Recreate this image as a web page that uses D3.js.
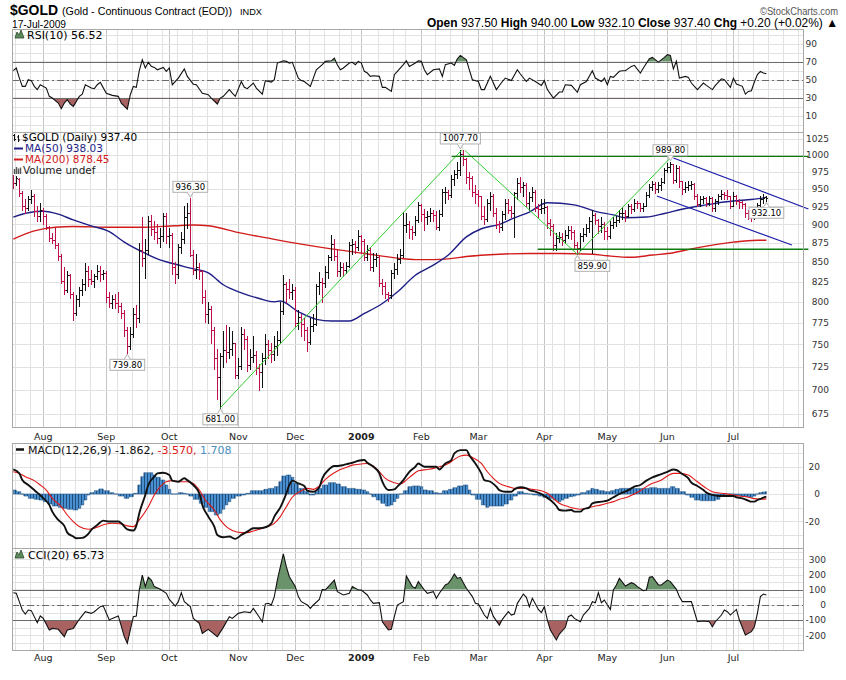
<!DOCTYPE html>
<html><head><meta charset="utf-8">
<script src="https://cdn.jsdelivr.net/npm/d3@7"></script>
<style>body{margin:0;background:#fff}svg{display:block}</style>
</head><body><svg id="c" width="846" height="680"></svg>
<script>
// ================= DATA =================
const START = "2008-07-18";
const HOLIDAYS = ["2008-09-01","2008-11-27","2008-12-25","2009-01-01","2009-01-19","2009-02-16","2009-04-10","2009-05-25","2009-07-03"];
const MONTH_LABELS = ["Aug","Sep","Oct","Nov","Dec","2009","Feb","Mar","Apr","May","Jun","Jul"];

const OPEN = [966,958,964,944,926,922,936,940,918,912,
920,911,896,881,879,872,858,826,815,833,
810,786,803,815,822,838,828,826,832,838,
834,836,806,799,803,798,795,786,766,748,
762,785,780,866,855,865,905,893,890,882,
884,912,884,886,843,835,870,880,910,915,
859,840,844,839,806,785,791,766,735,714,
737,744,741,745,751,716,726,762,756,727,
736,738,723,719,734,750,744,739,748,755,
789,822,816,812,815,775,782,774,767,753,
771,774,819,825,823,837,856,874,858,839,
843,840,845,872,873,870,884,878,857,866,
843,854,856,823,820,809,808,836,841,854,
859,899,900,894,889,906,927,914,910,911,
916,913,896,914,945,946,941,964,972,977,
1002,994,967,966,946,942,939,911,907,929,
940,915,900,897,914,930,920,915,944,958,
953,955,930,938,946,923,921,922,924,902,
898,872,881,883,879,886,892,889,872,868,
884,887,895,904,913,906,898,901,891,884,
899,903,906,915,916,912,925,921,930,929,
923,926,941,953,957,949,956,960,978,982,
986,963,981,961,950,953,955,957,940,928,
936,937,929,937,922,932,939,943,941,939,
926,940,932,931,928,915,914,912,915,927,
936,937.5];
const HIGH = [970,968,966,947,935,940,948,942,925,930,
922,914,898,888,895,875,860,843,838,835,
812,808,818,828,848,845,840,835,846,845,
840,838,812,808,810,812,798,790,770,770,
792,796,875,910,880,912,913,905,900,895,
915,915,895,888,850,873,890,926,930,936.3,
865,860,848,840,815,800,795,770,745,740,
765,772,770,765,752,734,770,768,760,745,
760,742,728,740,762,755,752,760,765,800,
833,825,828,822,818,790,785,780,770,780,
785,822,837,830,845,859,886,880,866,850,
848,850,876,880,878,892,885,880,872,868,
862,862,858,828,825,812,840,848,860,867,
917,915,905,898,912,931,928,921,918,922,
920,918,920,950,952,948,970,978,990,1007.7,
1007,995,975,968,955,948,940,925,935,945,
942,922,905,918,935,935,925,945,965,967,
960,958,945,952,948,928,935,935,926,908,
900,888,890,888,892,898,898,892,876,888,
895,900,910,920,916,908,910,903,896,905,
910,912,920,924,920,928,928,935,933,930,
930,945,957,962,960,960,965,980,988,989.8,
987,985,983,962,960,962,962,958,942,940,
940,938,940,938,935,942,948,946,948,940,
945,941,935,933,930,920,918,920,930,940,
942,940];
const LOW = [951,955,940,920,916,920,930,912,904,905,
900,893,878,875,868,852,823,810,812,805,
778,784,795,808,815,820,822,818,828,826,
828,800,794,792,792,788,780,760,739.8,745,
758,770,776,845,830,860,885,880,875,870,
878,875,870,835,823,830,862,875,895,858,
835,830,828,798,776,775,752,722,690,681,
725,730,735,738,712,712,722,745,720,722,
730,717,700,703,728,735,730,732,738,752,
785,800,805,803,770,768,760,755,742,750,
765,772,810,800,818,830,852,852,832,832,
832,836,843,860,862,865,862,852,852,840,
838,845,820,810,805,801,805,830,835,848,
857,890,882,880,885,903,905,892,900,905,
905,893,892,912,930,935,938,955,965,970,
985,958,950,940,930,925,908,900,905,920,
912,895,890,892,908,915,910,883,935,945,
940,925,920,932,918,910,915,915,895,886,
866,866,876,872,875,882,880,868,859.9,866,
878,884,890,862,900,888,890,880,880,882,
895,898,903,907,905,910,915,918,922,918,
918,925,938,948,944,946,948,958,975,975,
958,960,952,942,945,948,950,935,925,925,
930,926,927,918,918,928,935,935,935,922,
925,928,922,922,910,908,905,908,912,925,
930,932.1];
const CLOSE = [958,965,944,925,922,936,940,918,912,920,
911,896,881,879,872,858,826,815,833,810,
786,803,815,822,838,828,826,832,838,834,
836,806,799,803,798,795,786,766,748,762,
785,780,866,855,865,905,893,890,882,884,
912,884,886,843,835,870,880,910,915,859,
840,844,839,806,785,791,766,735,714,737,
744,741,745,751,716,726,762,756,727,736,
738,723,719,734,750,744,739,748,755,789,
822,816,812,815,775,782,774,767,753,771,
774,819,825,823,837,856,874,858,839,843,
840,845,872,873,870,884,878,857,866,843,
854,856,823,820,809,808,836,841,854,859,
899,900,894,889,906,927,914,910,911,916,
913,896,914,945,946,941,964,972,977,1002,
994,967,966,946,942,939,911,907,929,940,
915,900,897,914,930,920,915,944,958,953,
955,930,938,946,923,921,922,924,902,898,
872,881,883,879,886,892,889,872,868,884,
887,895,904,913,906,898,901,891,884,899,
903,906,915,916,912,925,921,930,929,923,
926,941,953,957,949,956,960,978,982,986,
963,981,961,950,953,955,957,940,928,936,
937,929,937,922,932,939,943,941,939,926,
940,932,931,928,915,914,912,915,927,936,
937.2,937.4];

// moving averages: [bar index, value]
const MA50 = [[0,910],[5,916],[10,918],[15,914],[20,906],[26,898],[32,890],[37,876],[43,863],[48,854],[54,847],[59,842],[65,836],[70,821],[76,811],[82,804],[87,800],[89,801],[95,788],[101,779],[106,777],[112,777],[117,786],[123,798],[128,812],[134,833],[140,846],[145,859],[151,883],[156,894],[162,900],[167,909],[172,917],[178,930],[187,927],[194,918],[200,913],[204,909],[211,910],[217,915],[224,922],[231,927],[237,931],[244,934],[250,937],[251,938.03]];
const MA200 = [[0,880],[7,891],[14,896],[20,897],[32,896],[43,896],[54,898],[60,899],[65,898],[76,888],[84,882],[95,874],[106,867],[117,861],[128,855],[134,853],[140,853],[145,854],[151,857],[162,860],[172,861],[182,861],[193,860],[198,858],[206,856],[213,859],[220,862],[226,867],[233,872],[240,876],[248,878.5],[251,878.45]];

const RSI = [[0,60],[1,63],[2,52],[3,42.6],[4,42.6],[5,50],[6,49],[7,42.6],[8,39],[9,44.4],[11,40.7],[12,31.5],[13,29.6],[15,24],[16,17.8],[17,24],[18,27.8],[19,23],[20,20.4],[22,31.5],[23,34],[24,44.4],[26,40.7],[27,40],[28,44.4],[29,47],[31,35],[33,32.6],[35,31.5],[36,24],[38,17.4],[39,33.3],[40,42.6],[41,41.5],[42,60],[43,72.2],[44,63],[45,69.3],[46,64.8],[47,63.7],[48,61],[50,63.7],[51,59.3],[52,63],[53,44.4],[55,51.8],[57,62],[58,53.7],[60,45],[61,44.4],[63,35],[65,33.3],[66,29.6],[68,23],[69,29.6],[70,31.5],[72,38.9],[73,35],[74,31.5],[76,48],[77,41.5],[78,40],[80,46.3],[81,40.7],[83,34],[84,49],[86,47.4],[87,50],[88,68.5],[90,71],[91,70.4],[92,68.5],[93,69.3],[95,51.8],[96,49],[97,48],[99,42.6],[100,51.8],[101,61],[103,66.7],[104,70.4],[106,71],[107,74],[108,66.7],[109,61],[110,63],[112,68.5],[113,69.3],[114,66.7],[115,70.4],[116,68.5],[117,59.3],[118,57.4],[119,53.7],[120,54.4],[122,53.7],[123,41.5],[124,41.5],[126,37],[127,55.6],[128,59.3],[130,66.7],[131,71],[132,64.8],[134,68.5],[135,71],[136,70.4],[137,61],[138,55.6],[140,61],[142,62],[143,53.7],[144,66.7],[146,68.5],[147,66],[148,73.3],[149,77],[151,72.2],[152,61],[153,50],[155,48],[156,39],[157,39],[159,53.7],[161,39],[163,48],[164,51.8],[166,49],[168,61],[169,56.3],[171,48],[172,51.8],[174,48],[176,43.7],[177,49],[178,39],[180,29.6],[182,36.3],[183,36.3],[184,44.4],[186,43.7],[188,36],[189,44.4],[191,48],[193,60],[194,51.8],[196,48],[197,51.8],[198,44.4],[199,53.7],[200,52.6],[202,59.3],[203,60],[204,60],[206,64.8],[207,66],[209,57.4],[210,63],[212,73.3],[213,74.8],[215,69.6],[217,74.8],[218,77.8],[219,77],[220,62],[221,70.4],[222,51.8],[224,53.7],[225,52.6],[226,46.3],[228,39],[229,42.6],[230,46.3],[231,43.7],[233,39],[234,43.7],[236,51],[237,50],[239,41.5],[240,51.8],[241,45.2],[243,42.6],[244,34],[245,37],[246,37.8],[247,47.4],[248,55.6],[249,59.3],[250,57.4],[251,56.52]];

const MACD = [[0,18],[2,15.1],[3,10.2],[5,6.6],[7,2.9],[8,1],[10,-3],[12,-8],[13,-12.9],[15,-19],[17,-23.4],[18,-28.3],[20,-31.2],[21,-32.4],[23,-32.2],[25,-29.3],[26,-26.3],[28,-22.7],[30,-19.5],[32,-20.2],[35,-20.2],[36,-21.5],[38,-25.9],[40,-26.8],[41,-23.4],[42,-14.1],[44,-0.7],[45,6.6],[47,12.7],[48,15.1],[50,15.6],[52,13.9],[53,9.8],[55,9],[57,11.5],[58,10.2],[60,6.6],[62,0.5],[63,-8],[65,-16.6],[67,-23.9],[68,-30],[70,-31.7],[72,-31.2],[74,-32.9],[76,-30],[78,-27.6],[80,-25.1],[82,-25.1],[84,-24.4],[86,-21.5],[87,-16.6],[89,-9.8],[91,0.5],[92,6.6],[93,9.8],[95,7.8],[97,5.9],[98,2.4],[100,1.7],[102,4.9],[103,11.5],[105,17.6],[107,20.5],[108,20.5],[110,21.2],[112,22.4],[113,22.9],[115,24.4],[117,24.9],[118,22.9],[120,20],[122,15.1],[123,9],[125,2.9],[127,3.4],[128,5.4],[130,10.2],[132,16.3],[134,20],[135,22.4],[136,21.2],[137,20],[139,20],[141,20],[142,18],[144,22.4],[146,24.9],[147,29.8],[149,32.2],[151,32.2],[152,28.5],[154,22.4],[156,15.1],[157,10.2],[159,9],[161,5.4],[162,2.9],[164,1.7],[166,1.7],[167,3.4],[169,4.9],[171,4.1],[172,2.9],[174,1.7],[176,0],[177,-1.5],[179,-4.4],[181,-8.8],[182,-11.7],[184,-12.2],[186,-11.7],[187,-12.9],[189,-12.9],[190,-11.2],[192,-9.8],[193,-6.8],[196,-5.6],[198,-4.9],[200,-2.4],[202,0],[205,2.9],[207,5.4],[209,6.6],[211,9.8],[213,12.2],[216,14.6],[218,16.3],[220,18],[221,17.6],[223,14.6],[225,11.5],[226,8.3],[228,5.9],[230,2.9],[231,1],[233,-0.7],[235,-1.5],[236,-1.5],[238,-1.5],[240,-1.5],[241,-2.4],[243,-3.2],[245,-4.9],[246,-5.6],[247,-5.6],[248,-4.4],[249,-3.6],[250,-2.6],[251,-1.862]];
const SIGNAL = [[0,16.3],[2,15.1],[4,12.7],[7,9.8],[9,6.6],[11,2.9],[13,-3.2],[16,-9.3],[18,-15.4],[20,-20.2],[22,-23.9],[25,-25.9],[27,-25.1],[29,-23.4],[31,-22],[33,-21.5],[36,-22],[38,-23.4],[40,-23.9],[42,-19],[45,-9.3],[47,-0.7],[49,5.4],[51,9],[53,9.8],[56,9],[58,9],[60,7.8],[62,2.9],[64,-4.4],[67,-11.7],[69,-19],[71,-23.9],[73,-26.8],[76,-28.3],[78,-28.3],[80,-27.1],[82,-25.9],[84,-24.4],[87,-21.5],[89,-16.6],[91,-9.3],[93,-2.4],[96,2.4],[98,4.1],[100,3.4],[102,5.9],[104,10.7],[107,15.6],[109,18],[111,19.5],[113,21.2],[116,22],[118,22.4],[120,20.5],[122,16.3],[124,11.5],[127,8.3],[129,7.3],[131,10.2],[133,13.9],[135,17],[138,18],[140,18.8],[142,20],[145,22.4],[147,25.4],[149,27.8],[151,28.5],[153,26.8],[156,22.4],[158,16.3],[160,11.5],[162,7.8],[165,5.4],[167,4.1],[169,4.1],[171,4.1],[173,3.4],[176,2.4],[178,0.5],[180,-3.2],[182,-6.8],[185,-9.3],[187,-10.5],[189,-11.2],[191,-10.5],[193,-9.3],[196,-8],[198,-6.8],[200,-5.6],[202,-3.9],[205,-2],[207,0],[209,2.4],[211,5.4],[213,7.8],[216,10.2],[218,13.2],[220,15.1],[222,15.1],[225,13.9],[227,10.7],[229,7.3],[231,4.1],[233,1.7],[236,0.5],[238,0],[240,-0.7],[242,-1.5],[245,-2.4],[247,-3.4],[249,-3.9],[251,-3.57]];
const HIST = [[0,2.9],[2,1.7],[3,0],[4,-1.5],[6,-3.2],[8,-3.9],[9,-4.4],[11,-5.6],[12,-7.3],[14,-8.8],[16,-9.8],[17,-10.5],[19,-11.2],[21,-11.7],[22,-10.5],[23,-8],[24,-4.4],[25,-0.7],[26,1],[28,2.4],[29,3.7],[31,2.4],[33,1],[34,0],[36,-1.5],[38,-3.2],[39,-2],[41,0.5],[42,6.6],[43,12.7],[44,15.6],[46,15.6],[47,13.9],[48,12.2],[50,10.2],[51,6.6],[52,3.4],[53,0],[54,0],[56,1],[57,0.5],[58,0],[59,-1.5],[61,-3.9],[63,-6.8],[64,-9.8],[66,-12.9],[68,-15.4],[69,-14.1],[70,-11.2],[71,-8],[72,-5.6],[73,-3.2],[75,-1.5],[77,-0.7],[78,0.5],[80,2.4],[82,2.4],[83,2.4],[84,3.4],[86,4.1],[88,5.4],[89,9],[90,13.2],[92,13.9],[93,12.2],[94,7.8],[96,4.1],[98,1.7],[99,-0.7],[100,-0.7],[101,1.7],[102,4.1],[104,6.6],[106,8.3],[107,8.3],[108,7.3],[110,5.4],[112,4.1],[113,4.1],[115,3.4],[117,2.9],[118,1.7],[119,0],[120,-2],[122,-4.4],[123,-6.8],[125,-8.8],[126,-8],[127,-5.6],[128,-3.2],[129,0],[131,2.4],[132,5.4],[134,5.9],[135,5.9],[136,5.4],[137,2.9],[139,2.4],[141,1],[142,0.5],[144,2.4],[146,3.4],[147,4.6],[149,5.9],[151,6.6],[152,2.9],[153,-0.7],[155,-3.9],[157,-8],[158,-9.8],[159,-8.8],[161,-8.8],[163,-8.8],[164,-7.3],[166,-4.4],[167,-1.5],[169,1.7],[171,0.5],[172,0],[174,-0.7],[176,-1.5],[177,-2.4],[179,-3.2],[181,-4.4],[182,-5.6],[183,-4.4],[184,-3.2],[186,-2],[187,-1.5],[188,-0.7],[190,1],[192,2.4],[193,4.1],[194,3.4],[196,2.4],[198,1.7],[200,2.4],[201,3.4],[203,4.1],[205,4.1],[207,4.1],[209,4.1],[211,4.1],[213,4.6],[216,4.1],[218,4.1],[220,5.4],[221,4.1],[223,1.7],[225,-0.7],[226,-2.4],[228,-4.4],[230,-4.9],[231,-4.9],[233,-4.9],[235,-3.9],[236,-1.5],[238,0],[239,0],[241,-0.7],[243,-1.5],[245,-2],[246,-2.4],[247,-1.5],[248,0],[249,1],[250,1.4],[251,1.708]];

const CCI = [[0,81],[1,77],[2,22],[3,-33],[4,-59],[5,-33],[6,-37],[8,-116],[9,-72],[10,-88],[12,-164],[13,-154],[15,-160],[17,-208],[18,-164],[20,-154],[22,-94],[24,-44],[26,-55],[27,-44],[29,-11],[30,-7],[32,-99],[33,-88],[35,-72],[37,-208],[38,-252],[39,-164],[40,-77],[41,-72],[42,99],[43,197],[44,121],[45,182],[46,164],[47,121],[49,103],[51,77],[52,37],[54,-7],[55,22],[56,81],[57,22],[59,-11],[60,-88],[62,-121],[63,-186],[65,-160],[68,-208],[70,-147],[72,-77],[73,-88],[75,-55],[77,-44],[79,-50],[80,-22],[82,-81],[83,-110],[84,7],[85,11],[86,0],[87,55],[88,164],[90,336],[91,252],[92,186],[94,121],[95,55],[96,22],[98,0],[99,-22],[100,0],[102,37],[103,103],[104,99],[106,142],[107,164],[108,88],[110,66],[112,77],[113,121],[115,99],[116,99],[118,66],[119,33],[120,11],[122,15],[123,-110],[125,-164],[126,-160],[127,-77],[128,0],[130,22],[131,191],[133,121],[134,110],[135,154],[137,99],[138,77],[140,88],[141,44],[142,77],[144,132],[145,142],[146,169],[147,204],[148,175],[149,182],[151,110],[153,55],[154,11],[155,7],[157,-66],[158,-88],[159,-22],[160,-75],[162,-132],[163,-94],[165,-44],[166,-66],[167,-59],[168,11],[170,72],[171,50],[172,-11],[173,44],[175,-29],[176,-50],[177,-11],[178,-99],[179,-164],[181,-230],[182,-191],[184,-147],[185,-77],[186,-66],[187,-88],[189,-110],[190,-66],[192,-22],[193,22],[194,15],[195,81],[196,15],[197,33],[198,0],[199,-29],[200,99],[201,132],[202,175],[204,125],[206,147],[207,138],[208,121],[210,94],[211,99],[212,182],[213,186],[215,132],[216,132],[218,164],[219,154],[221,103],[222,55],[223,22],[226,22],[228,-110],[230,-105],[232,-110],[233,-143],[234,-110],[236,-66],[237,-33],[238,-44],[239,-66],[241,-29],[242,-99],[244,-197],[246,-175],[247,-143],[248,-55],[249,55],[250,72],[251,65.73]];

// annotations (bar index, price)
const ANN_IDX = [149,219,59,38,69,188,251];
const ANN_VAL = [1007.70,989.80,936.30,739.80,681.00,859.90,932.10];
const ANN_SIDE = ["high","high","high","low","low","low","low"];
// trend lines [bar index, price]
const TL_GREEN = [[[69,681],[149.5,1007.7]],[[150.5,1007],[188,859.9]],[[188,859.9],[219.5,998]]];
const TL_HORIZ = [[[146.1,998],[265,998]],[[174.8,866.5],[265,866.5]]];
const TL_BLUE = [[[220,995.5],[265,921.3]],[[214.5,939.6],[259.5,872.2]]];

const PRICE_TICKS = [675,700,725,750,775,800,825,850,875,900,925,950,975,1000,1025];
const RSI_TICKS = [10,30,50,70,90];
const MACD_TICKS = [-20,0,20];
const CCI_TICKS = [-200,-100,0,100,200,300];

// ================= CHART =================
const svg = d3.select("#c");
const X0 = 12, X1 = 803;
const N = CLOSE.length;
const hol = new Set(HOLIDAYS);
const fmt = d3.utcFormat("%Y-%m-%d");
const dates = [];
for (let d = d3.utcParse("%Y-%m-%d")(START); dates.length < N + 14; d = d3.utcDay.offset(d, 1)) {
  const w = d.getUTCDay();
  if (w !== 0 && w !== 6 && !hol.has(fmt(d))) dates.push(d);
}
const xs = d3.scaleLinear().domain([-0.43, 263.2]).range([X0, X1]);
const monthStarts = [], weekStarts = [];
dates.forEach((d, i) => {
  if (i === 0) return;
  if (d.getUTCMonth() !== dates[i-1].getUTCMonth() && i < N) monthStarts.push(i);
  if (d.getUTCDay() < dates[i-1].getUTCDay()) weekStarts.push(i);
});

const P = {rsi:[29,132], price:[132,427], macd:[443,548], cci:[548,650]};
const yR = d3.scaleLinear().domain([0,100]).range([124.7,34.7]);
const yP = d3.scaleLog().domain([661.4,1035.6]).range([427,132]);
const yM = d3.scaleLinear().domain([-39.6,37.4]).range([548,443]);
const yC = d3.scaleLinear().domain([-296,375]).range([650,548]);

const FONT = "'DejaVu Sans', Verdana, sans-serif";
const HFONT = "'Liberation Sans', Arial, sans-serif";
const defs = svg.append("defs");
svg.append("rect").attr("width",846).attr("height",680).attr("fill","#fff");

Object.entries(P).forEach(([k,[t,b]]) => {
  defs.append("clipPath").attr("id","clip-"+k).append("rect").attr("x",X0).attr("y",t).attr("width",X1-X0).attr("height",b-t);
});

function grid(key, yScale, vals) {
  const [t,b] = P[key];
  const g = svg.append("g").attr("shape-rendering","crispEdges");
  const mset = new Set(monthStarts);
  weekStarts.forEach(i => {
    if (mset.has(i) || mset.has(i+1) || mset.has(i-1)) return;
    const x = Math.round(xs(i-0.5))+0.5;
    if (x <= X0 || x >= X1) return;
    g.append("line").attr("x1",x).attr("x2",x).attr("y1",t).attr("y2",b).attr("stroke","#e2e2e2");
  });
  monthStarts.forEach(i => {
    const x = Math.round(xs(i))+0.5;
    g.append("line").attr("x1",x).attr("x2",x).attr("y1",t).attr("y2",b).attr("stroke","#c4c4c4");
  });
  vals.forEach(v => {
    const y = Math.round(yScale(v))+0.5;
    g.append("line").attr("x1",X0).attr("x2",X1).attr("y1",y).attr("y2",y).attr("stroke","#e2e2e2");
  });
}
function frame(key) {
  const [t,b] = P[key];
  svg.append("rect").attr("x",X0+0.5).attr("y",t+0.5).attr("width",X1-X0).attr("height",b-t)
    .attr("fill","none").attr("stroke","#a8a8a8").attr("shape-rendering","crispEdges");
}
function ticks(vals, yScale, anchorX) {
  vals.forEach(v => svg.append("text").attr("x",anchorX).attr("y",yScale(v)).attr("dy","0.36em")
    .attr("text-anchor","end").attr("font-family",FONT).attr("font-size",9).attr("fill","#333").text(v));
}
function refLine(key, y, dash) {
  svg.append("line").attr("x1",X0).attr("x2",X1).attr("y1",Math.round(y)+0.5).attr("y2",Math.round(y)+0.5)
    .attr("stroke","#6a6a6a").attr("stroke-width",1).attr("stroke-dasharray",dash||null).attr("shape-rendering","crispEdges");
}
function bandFill(key, pts, yScale, thr, above, color) {
  const [t,b] = P[key];
  const id = "band-"+key+"-"+thr;
  const yT = yScale(thr);
  defs.append("clipPath").attr("id",id).append("rect").attr("x",X0).attr("width",X1-X0)
    .attr("y", above ? t : yT).attr("height", above ? yT - t : b - yT);
  svg.append("path").datum(pts).attr("clip-path","url(#"+id+")")
    .attr("d", d3.area().x(d=>xs(d[0])).y0(yT).y1(d=>yScale(d[1])))
    .attr("fill", color);
}
function mountain(x, y) {
  svg.append("path").attr("d",`M${x},${y+8} L${x+2},${y+2} L${x+4},${y+5} L${x+6},${y} L${x+9},${y+8} Z`)
    .attr("fill","#5d8a5d").attr("stroke","#2b4a2b").attr("stroke-width",0.8);
}
const GREEN_FILL = "#6b936b", RED_FILL = "#a86262";

// ---------- RSI ----------
grid("rsi", yR, d3.range(0,101,10));
bandFill("rsi", RSI, yR, 70, true, GREEN_FILL);
bandFill("rsi", RSI, yR, 30, false, RED_FILL);
refLine("rsi", yR(70)); refLine("rsi", yR(30)); refLine("rsi", yR(50), "7,3,2,3");
svg.append("path").datum(RSI).attr("clip-path","url(#clip-rsi)")
  .attr("d", d3.line().x(d=>xs(d[0])).y(d=>yR(d[1]))).attr("fill","none").attr("stroke","#111").attr("stroke-width",1.1);
frame("rsi");
ticks(RSI_TICKS, yR, 817);
mountain(15, 30);
svg.append("text").attr("x",27).attr("y",39).attr("font-family",FONT).attr("font-size",11)
  .text("RSI(10) " + RSI[RSI.length-1][1].toFixed(2));

// ---------- PRICE ----------
grid("price", yP, PRICE_TICKS);
const gp = svg.append("g").attr("clip-path","url(#clip-price)");
gp.append("path").datum(MA200).attr("d", d3.line().curve(d3.curveMonotoneX).x(d=>xs(d[0])).y(d=>yP(d[1])))
  .attr("fill","none").attr("stroke","#d21c1c").attr("stroke-width",1.4);
gp.append("path").datum(MA50).attr("d", d3.line().curve(d3.curveMonotoneX).x(d=>xs(d[0])).y(d=>yP(d[1])))
  .attr("fill","none").attr("stroke","#1e1e86").attr("stroke-width",1.4);
const gb = gp.append("g").attr("shape-rendering","crispEdges");
for (let i = 0; i < N; i++) {
  const up = i === 0 ? CLOSE[0] >= OPEN[0] : CLOSE[i] >= CLOSE[i-1];
  const col = up ? "#111" : "#c0104a";
  const x = Math.round(xs(i)) + 0.5;
  const yo = Math.round(yP(OPEN[i]))+0.5, yc = Math.round(yP(CLOSE[i]))+0.5;
  gb.append("path").attr("d",`M${x},${Math.round(yP(HIGH[i]))}V${Math.round(yP(LOW[i]))+1}M${x-1.5},${yo}H${x}M${x},${yc}H${x+1.5}`)
    .attr("stroke",col).attr("stroke-width",1).attr("fill","none");
}
const tl = d3.line().x(d=>xs(d[0])).y(d=>yP(d[1]));
TL_GREEN.forEach(s => svg.append("path").attr("d",tl(s)).attr("stroke","#2fd02f").attr("stroke-width",1).attr("fill","none"));
TL_HORIZ.forEach(s => svg.append("path").attr("d",tl(s)).attr("stroke","#0f7a0f").attr("stroke-width",1.4).attr("fill","none"));
TL_BLUE.forEach(s => svg.append("path").attr("d",tl(s)).attr("stroke","#1c1ca8").attr("stroke-width",1.1).attr("fill","none"));
// annotations
const annShift = {"859.90": 15};
ANN_IDX.forEach((idx, k) => {
  const v = ANN_VAL[k], txt = v.toFixed(2);
  const bx = xs(idx), by = yP(v);
  const cx = bx + (annShift[txt] || 0);
  const g = svg.append("g");
  const t = g.append("text").attr("font-family",FONT).attr("font-size",8.5).attr("text-anchor","middle").text(txt);
  const w = t.node().getComputedTextLength() + 5, h = 11;
  const hi = ANN_SIDE[k] === "high";
  const top = hi ? by - 6 - h : by + 6;
  g.insert("rect","text").attr("x",cx - w/2).attr("y",top).attr("width",w).attr("height",h)
    .attr("fill","#fff").attr("stroke","#b0b0b0").attr("stroke-width",1);
  const edge = hi ? top + h : top;
  g.append("path").attr("d", hi ? `M${bx-3},${edge} L${bx},${by-1} L${bx+3},${edge}` : `M${bx-3},${edge} L${bx},${by+1} L${bx+3},${edge}`)
    .attr("fill","#fff").attr("stroke","#b0b0b0");
  t.attr("x",cx).attr("y",top + 8.5);
});
frame("price");
ticks(PRICE_TICKS, yP, 829);
// legend
const lg = svg.append("g").attr("font-family",FONT).attr("font-size",10.5);
lg.append("path").attr("d","M14.5,134V141M13,135.5H14.5M14.5,139.5H16M18.5,135V142M17,137H18.5M18.5,140H20")
  .attr("stroke","#111").attr("fill","none");
lg.append("text").attr("x",22).attr("y",141).text("$GOLD (Daily) " + CLOSE[N-1].toFixed(2));
lg.append("line").attr("x1",14).attr("x2",23).attr("y1",148.5).attr("y2",148.5).attr("stroke","#1e1e86").attr("stroke-width",2);
lg.append("text").attr("x",25).attr("y",152).attr("fill","#1e1e86").text("MA(50) " + MA50[MA50.length-1][1].toFixed(2));
lg.append("line").attr("x1",14).attr("x2",23).attr("y1",159.5).attr("y2",159.5).attr("stroke","#d21c1c").attr("stroke-width",2);
lg.append("text").attr("x",25).attr("y",163).attr("fill","#d21c1c").text("MA(200) " + MA200[MA200.length-1][1].toFixed(2));
lg.append("path").attr("d","M14.5,174V169M16.5,174V167M18.5,174V168.5M20.5,174V167.5").attr("stroke","#555").attr("stroke-width",1.4);
lg.append("text").attr("x",23).attr("y",174).attr("fill","#222").text("Volume undef");

// ---------- month labels ----------
function monthAxis(y) {
  monthStarts.forEach((i, k) => {
    const lab = MONTH_LABELS[k];
    svg.append("text").attr("x",xs(i)).attr("y",y).attr("text-anchor","middle")
      .attr("font-family",FONT).attr("font-size",9.5).attr("font-weight", /^\d+$/.test(lab) ? "bold" : "normal")
      .attr("fill","#222").text(lab);
  });
}
monthAxis(440);

// ---------- MACD ----------
grid("macd", yM, [-30,-20,-10,0,10,20,30]);
const pat = defs.append("pattern").attr("id","hstripe").attr("patternUnits","userSpaceOnUse")
  .attr("width",3).attr("height",6).attr("x", Math.round(xs(0)) - 1);
pat.append("rect").attr("width",3).attr("height",6).attr("fill","#4a8fd0");
pat.append("rect").attr("width",1).attr("height",6).attr("fill","#1f4d7c");
const gm = svg.append("g").attr("clip-path","url(#clip-macd)");
gm.append("path").datum(HIST).attr("d", d3.area().curve(d3.curveStep).x(d=>xs(d[0])).y0(yM(0)).y1(d=>yM(d[1])))
  .attr("fill","url(#hstripe)").attr("stroke","#2a5a8a").attr("stroke-width",0.6);
gm.append("path").datum(SIGNAL).attr("d", d3.line().curve(d3.curveMonotoneX).x(d=>xs(d[0])).y(d=>yM(d[1])))
  .attr("fill","none").attr("stroke","#e01818").attr("stroke-width",1.1);
gm.append("path").datum(MACD).attr("d", d3.line().curve(d3.curveMonotoneX).x(d=>xs(d[0])).y(d=>yM(d[1])))
  .attr("fill","none").attr("stroke","#111").attr("stroke-width",1.9);
frame("macd");
ticks(MACD_TICKS, yM, 820);
svg.append("line").attr("x1",16).attr("x2",24).attr("y1",449.5).attr("y2",449.5).attr("stroke","#111").attr("stroke-width",2.5);
const mt = svg.append("text").attr("x",28).attr("y",453.5).attr("font-family",FONT).attr("font-size",11);
mt.append("tspan").attr("fill","#111").text("MACD(12,26,9) " + MACD[MACD.length-1][1].toFixed(3) + ",");
mt.append("tspan").attr("fill","#e01818").text(" " + SIGNAL[SIGNAL.length-1][1].toFixed(3) + ",");
mt.append("tspan").attr("fill","#4a8fc0").text(" " + HIST[HIST.length-1][1].toFixed(3));

// ---------- CCI ----------
grid("cci", yC, d3.range(-250,351,50));
bandFill("cci", CCI, yC, 100, true, GREEN_FILL);
bandFill("cci", CCI, yC, -100, false, RED_FILL);
refLine("cci", yC(100)); refLine("cci", yC(-100)); refLine("cci", yC(0), "7,3,2,3");
svg.append("path").datum(CCI).attr("clip-path","url(#clip-cci)")
  .attr("d", d3.line().x(d=>xs(d[0])).y(d=>yC(d[1]))).attr("fill","none").attr("stroke","#111").attr("stroke-width",1.1);
frame("cci");
ticks(CCI_TICKS, yC, 826);
mountain(15, 550);
svg.append("text").attr("x",28).attr("y",558.5).attr("font-family",FONT).attr("font-size",11)
  .text("CCI(20) " + CCI[CCI.length-1][1].toFixed(2));
monthAxis(661);

// ---------- header (condensed via textLength) ----------
function htext(x, y, size, len, str, opts) {
  const t = svg.append("text").attr("x",x).attr("y",y).attr("font-family",HFONT).attr("font-size",size)
    .attr("textLength",len).attr("lengthAdjust","spacingAndGlyphs").text(str);
  if (opts && opts.bold) t.attr("font-weight","bold");
  if (opts && opts.fill) t.attr("fill",opts.fill);
  return t;
}
htext(10, 15, 14, 48, "$GOLD", {bold:true});
htext(62, 15, 11, 170, "(Gold - Continuous Contract (EOD))");
htext(240, 15, 9, 22, "INDX");
htext(12, 27.5, 10, 54, "17-Jul-2009");
htext(760, 15, 10, 78, "\u00A9StockCharts.com", {fill:"#555"});
const chg = CLOSE[N-1] - CLOSE[N-2];
const hd = svg.append("text").attr("x",427).attr("y",27).attr("font-family",HFONT).attr("font-size",12.5)
  .attr("textLength",411).attr("lengthAdjust","spacingAndGlyphs");
[["Open ",OPEN[N-1]],["High ",HIGH[N-1]],["Low ",LOW[N-1]],["Close ",CLOSE[N-1]]].forEach(([l,v]) => {
  hd.append("tspan").attr("font-weight","bold").text(l);
  hd.append("tspan").text(v.toFixed(2) + "  ");
});
hd.append("tspan").attr("font-weight","bold").text("Chg ");
hd.append("tspan").text("+" + chg.toFixed(2) + " (+" + (chg/CLOSE[N-2]*100).toFixed(2) + "%) \u25B2");
</script>
</body></html>
